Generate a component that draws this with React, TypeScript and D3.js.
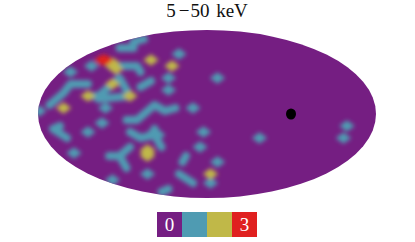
import React from 'react';
import * as d3 from 'd3';

// sky cells at level 1 that join up into runs, as [column, row] on the map lattice
const LEVEL_1_RUNS: [number, number][][] = [
  [[-25, 22], [-21, 22], [-21, 24], [-18, 25]],
  [[-27, 16], [-23, 16], [-20, 16], [-19, 14]],
  [[-34, 10], [-39, 10], [-41, 7], [-45, 3]],
  [[-16, 11], [-19, 9]],
  [[-34, 6], [-31, 6], [-25, 12], [-22, 6], [-31, 5]],
  [[-23, -2], [-20, -2], [-18, 0], [-15, 3], [-12, 1], [-9, 2]],
  [[-22, -6], [-19, -8], [-15, -7], [-15, -5]],
  [[-15, -7], [-13, -11]],
  [[-28, -14], [-25, -14], [-22, -11]],
  [[-25, -14], [-23, -18]],
  [[-6, -14], [-7, -16]],
  [[-8, -20], [-4, -23]],
  [[-11, -25], [-13, -26]],
  [[-42, -4], [-44, -5], [-40, -8]],
];
// level 1 cells standing alone
const LEVEL_1: [number, number][] = [
  [-8, 20], [-11, 12], [-11, 8], [-29, 2], [-39, 14], [-33, 16], [-48, 1], [-4, 2], [-15, -6],
  [-14, -7], [-1, -6], [-2, -11], [3, -16], [1, -23], [-17, -20], [-34, -6], [-30, -3], [-38, -13],
  [-27, -22], [3, 12], [15, -8], [40, -4], [39, -8],
];
const LEVEL_2: [number, number][] = [
  [-27, 17], [-27, 16], [-26, 15], [-16, 18], [-10, 16], [-27, 10], [-22, 6], [-34, 6], [-41, 2],
  [-17, -12], [-17, -13], [-17, -14], [1, -20],
];
const LEVEL_3: [number, number][] = [[-30, 18], [-29, 18]];

const SOURCE: [number, number] = [24, 0];
const LEVELS = ['0', '1', '2', '3'];
const LEVEL_LABELS = ['0', '', '', '3'];
const COLORS = ['#751e82', '#4f9bb2', '#c0b848', '#e0201f'];

const WIDTH = 415;
const HEIGHT = 242;
const CX = 207;
const CY = 114;
const RX = 169;
const RY = 84;

const xScale = d3.scaleLinear().domain([-48, 48]).range([CX - 168, CX + 168]);
const yScale = d3.scaleLinear().domain([-28, 28]).range([CY + 84, CY - 84]);
const legendScale = d3.scaleBand().domain(LEVELS).range([157, 257]);
const lineGen = d3.line();

const run = (cells: [number, number][]) =>
  lineGen(cells.map(([c, r]) => [xScale(c), yScale(r)] as [number, number]));

// one cell is a diamond spanning two lattice steps each way
const diamond = ([c, r]: [number, number]) =>
  lineGen([
    [xScale(c - 2.2), yScale(r)],
    [xScale(c), yScale(r + 1.9)],
    [xScale(c + 2.2), yScale(r)],
    [xScale(c), yScale(r - 1.9)],
  ]) + 'Z';

const App = () => {
  const layers: [[number, number][], string][] = [
    [LEVEL_1, COLORS[1]],
    [LEVEL_2, COLORS[2]],
    [LEVEL_3, COLORS[3]],
  ];
  return (
    <svg width={WIDTH} height={HEIGHT} style={{ position: 'absolute', left: 0, top: 0 }}>
      <defs>
        <clipPath id="sky">
          <ellipse cx={CX} cy={CY} rx={RX} ry={RY} />
        </clipPath>
        <filter id="soft" x="0" y="0" width={WIDTH} height={HEIGHT} filterUnits="userSpaceOnUse">
          <feGaussianBlur stdDeviation="1.9" />
        </filter>
      </defs>
      <text x={CX} y={17} textAnchor="middle" fontFamily="'Liberation Serif', serif" fontSize={19} fill="#111">
        5<tspan dx={3}>{'\u2212'}</tspan>
        <tspan dx={1}>50</tspan>
        <tspan dx={2}> keV</tspan>
      </text>
      <ellipse cx={CX} cy={CY} rx={RX} ry={RY} fill={COLORS[0]} />
      <g clipPath="url(#sky)">
        <g filter="url(#soft)">
          {LEVEL_1_RUNS.map((cells) => (
            <path
              key={cells.join()}
              d={run(cells)!}
              fill="none"
              stroke={COLORS[1]}
              strokeWidth={8}
              strokeLinejoin="round"
              strokeLinecap="round"
            />
          ))}
          {layers.map(([cells, color]) =>
            cells.map((cell) => <path key={color + cell.join()} d={diamond(cell)} fill={color} />)
          )}
        </g>
      </g>
      <ellipse cx={xScale(SOURCE[0])} cy={yScale(SOURCE[1])} rx={5} ry={5.5} fill="#000" />
      {LEVELS.map((level, i) => (
        <g key={level}>
          <rect x={legendScale(level)} y={212} width={legendScale.bandwidth()} height={25} fill={COLORS[i]} />
          <text
            x={legendScale(level)! + legendScale.bandwidth() / 2}
            y={231}
            textAnchor="middle"
            fontFamily="'Liberation Serif', serif"
            fontSize={19}
            fill="#fff"
          >
            {LEVEL_LABELS[i]}
          </text>
        </g>
      ))}
    </svg>
  );
};

export default App;
